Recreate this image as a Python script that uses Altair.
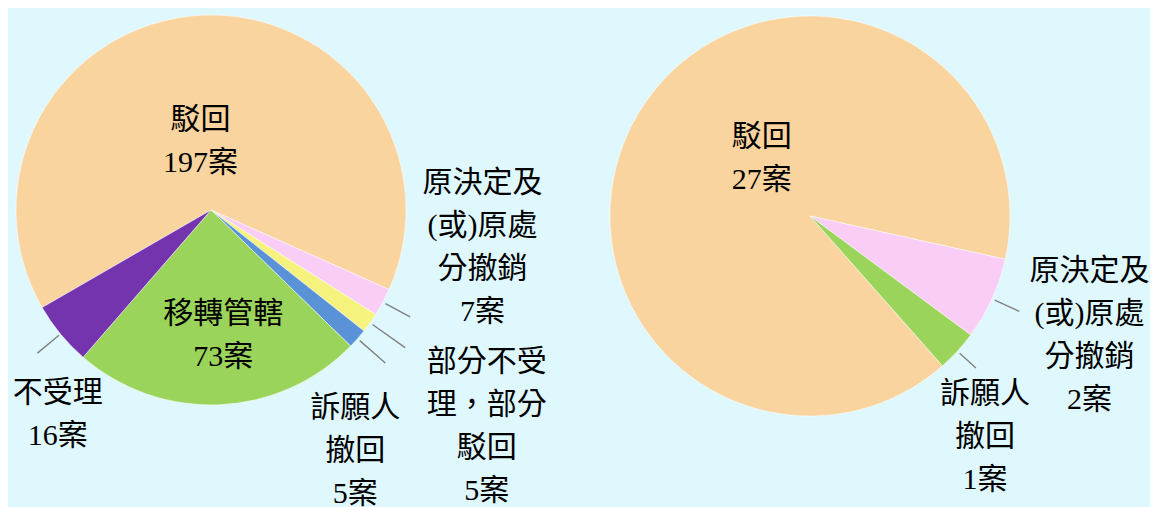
import math
import altair as alt
import pandas as pd

# ---- data ----
left_cats = ["駁回", "原決定及(或)原處分撤銷", "部分不受理，部分駁回", "訴願人撤回", "移轉管轄", "不受理"]
left_vals = [197, 7, 5, 5, 73, 16]
left_names = ["駁回", "原決定及\n(或)原處\n分撤銷", "部分不受\n理，部分\n駁回", "訴願人\n撤回", "移轉管轄", "不受理"]

right_cats = ["駁回", "原決定及(或)原處分撤銷", "訴願人撤回"]
right_vals = [27, 2, 1]
right_names = ["駁回", "原決定及\n(或)原處\n分撤銷", "訴願人\n撤回"]

# ---- styles ----
left_colors = ["#FAD49F", "#F9CDF6", "#F5F27E", "#5A92D8", "#9BD45A", "#7434AE"]
right_colors = ["#FAD49F", "#F9CDF6", "#9BD45A"]
FONT = "Liberation Serif, Noto Sans CJK TC"
BG = "#DFF8FE"


def make_df(cats, vals, names):
    return pd.DataFrame({
        "cat": cats,
        "value": vals,
        "order": list(range(len(cats))),
        "label": [f"{n}\n{v}案" for n, v in zip(names, vals)],
    })


def pie(cats, vals, names, colors, start_deg, cx, cy, R, specs):
    df = make_df(cats, vals, names)
    total = sum(vals)
    a0 = math.radians(start_deg)
    th = alt.Scale(domain=[0, total], range=[a0, a0 + 2 * math.pi])
    base = (
        alt.Chart(df)
        .transform_window(cum="sum(value)", sort=[alt.SortField("order")], frame=[None, 0])
        .transform_calculate(start="datum.cum - datum.value", mid="datum.cum - datum.value / 2")
    )
    arcs = base.mark_arc(outerRadius=R, stroke="#ffffff", strokeWidth=0.5).encode(
        x=alt.value(cx),
        y=alt.value(cy),
        theta=alt.Theta("start:Q", scale=th, stack=False),
        theta2="cum:Q",
        color=alt.Color("cat:N", scale=alt.Scale(domain=cats, range=colors), legend=None),
        order=alt.Order("order:Q"),
    )
    layers = [arcs]
    for cat, (r, dx, dy, lead) in specs.items():
        sub = base.transform_filter(alt.datum.cat == cat)
        if lead:
            layers.append(
                sub.mark_arc(
                    innerRadius=lead[0], outerRadius=lead[1], filled=False,
                    stroke="#808080", strokeWidth=1.4,
                ).encode(
                    x=alt.value(cx), y=alt.value(cy),
                    theta=alt.Theta("mid:Q", scale=th, stack=False),
                    theta2="mid:Q",
                )
            )
        layers.append(
            sub.mark_text(
                radius=r, dx=dx, dy=dy, font=FONT, fontSize=30, lineHeight=43,
                lineBreak="\n", align="center", baseline="middle", color="#000000",
            ).encode(
                x=alt.value(cx), y=alt.value(cy),
                theta=alt.Theta("mid:Q", scale=th, stack=False),
                text="label:N",
            )
        )
    return alt.layer(*layers)


left_specs = {
    "駁回": (69, -7, -21.5, None),
    "原決定及(或)原處分撤銷": (240, 60, -140.5, (198, 226)),
    "部分不受理，部分駁回": (240, 80, 13.5, (198, 238)),
    "訴願人撤回": (240, -36, 40, (198, 232)),
    "移轉管轄": (126, 7, -21.5, None),
    "不受理": (240, 32, 30.5, (197, 225)),
}
right_specs = {
    "駁回": (70, 12, -43.5, None),
    "原決定及(或)原處分撤銷": (240, 61, -44.5, (203, 230)),
    "訴願人撤回": (240, -2, 16, (203, 225)),
}

left = pie(left_cats, left_vals, left_names, left_colors, 240, 203, 202, 195, left_specs)
right = pie(right_cats, right_vals, right_names, right_colors, 138.5, 802, 208, 200, right_specs)

chart = (
    alt.layer(left, right)
    .resolve_scale(theta="independent", color="independent")
    .properties(width=1142, height=499, background=BG, padding=0, autosize="none")
    .configure_view(strokeWidth=0)
)

chart.save("out.html", embed_options={"renderer": "svg", "actions": False})
